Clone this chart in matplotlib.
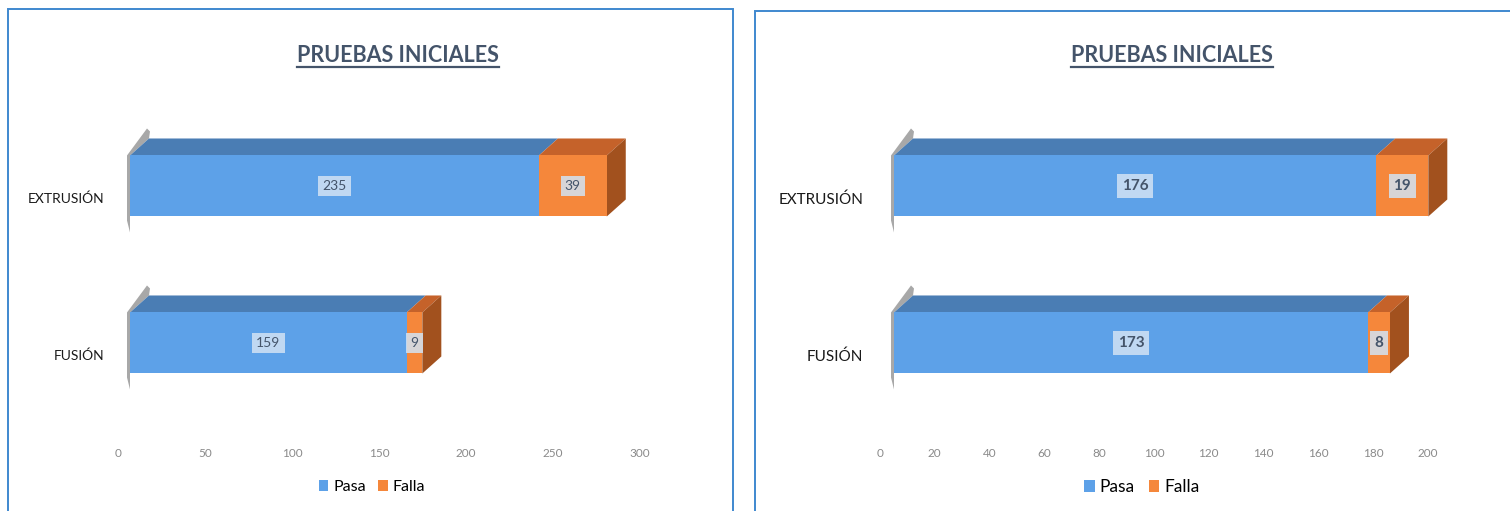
import matplotlib
matplotlib.use('Agg')
import matplotlib.pyplot as plt
from matplotlib.patches import Polygon, Rectangle
from matplotlib.lines import Line2D
from matplotlib.transforms import ScaledTranslation

# test results per process, bottom to top
categories = ['FUSIÓN', 'EXTRUSIÓN']
series = ['Pasa', 'Falla']
pasa_first = [159, 235]
falla_first = [9, 39]
pasa_second = [173, 176]
falla_second = [8, 19]
ticks_first = [0, 50, 100, 150, 200, 250, 300]
ticks_second = [0, 20, 40, 60, 80, 100, 120, 140, 160, 180, 200]
chart_title = 'PRUEBAS INICIALES'

W, H = 1510, 511
plt.rcParams['font.family'] = ['Lato', 'DejaVu Sans']

FRONT = {'Pasa': '#5DA1E8', 'Falla': '#F5873B'}
TOP = {'Pasa': '#4A7DB4', 'Falla': '#C5622A'}
SIDE = {'Pasa': '#3E6C9E', 'Falla': '#A2511E'}
TITLE_COLOR = '#44546A'
BORDER = '#3F88CF'

BAR_H_PX = 61
DEPTH_X, DEPTH_Y = 19, 17


def fig_rect(x, y, w, h):
    # pixel box measured from the top-left corner -> figure fraction
    return [x / W, 1 - (y + h) / H, w / W, h / H]


fig = plt.figure(figsize=(W / 100, H / 100), dpi=100)
fig.patch.set_facecolor('white')


def draw_panel(box, ax_left, ax_width, xmax, ticks, pasa, falla, title_x, legend_x,
               front_shift, label_bold, label_size, cat_size, cat_pad, legend_size):
    bx, by, bw, bh = box
    fig.patches.append(Rectangle((bx / W, 1 - (by + bh) / H), bw / W, bh / H,
                                 transform=fig.transFigure, fill=False,
                                 edgecolor=BORDER, linewidth=1.4, zorder=0))

    ax_top, ax_bot = 110, 440
    ax = fig.add_axes(fig_rect(ax_left, ax_top, ax_width, ax_bot - ax_top))
    y_lo, y_hi = -0.618, 1.484
    ax.set_xlim(0, xmax)
    ax.set_ylim(y_lo, y_hi)
    px_y = (ax_bot - ax_top) / (y_hi - y_lo)
    px_x = ax_width / xmax
    h = BAR_H_PX / px_y
    ddx, ddy = DEPTH_X / px_x, DEPTH_Y / px_y

    shift = ax.transData + ScaledTranslation(front_shift / 100, 0, fig.dpi_scale_trans)

    handles = []
    for i, cat in enumerate(categories):
        yb, yt = i - h / 2, i + h / 2
        # shaded edge of the back wall at the bar's left end
        shade = Polygon([(0, yb - 16 / px_y), (-3 / px_x, yb - 4 / px_y), (-3 / px_x, yt),
                         (ddx - 2 / px_x, yt + ddy + 10 / px_y), (ddx + 1 / px_x, yt + ddy + 7 / px_y),
                         (ddx, yt + ddy), (0, yt)],
                        closed=True, facecolor='#6E6E6E', edgecolor='none', alpha=0.6,
                        transform=shift, zorder=1, clip_on=False)
        ax.add_patch(shade)
        left = 0
        segs = [('Pasa', pasa[i]), ('Falla', falla[i])]
        for k, (name, val) in enumerate(segs):
            right = left + val
            top = Polygon([(left, yt), (right, yt), (right + ddx, yt + ddy), (left + ddx, yt + ddy)],
                          closed=True, facecolor=TOP[name], edgecolor='none',
                          transform=shift, zorder=2, clip_on=False)
            ax.add_patch(top)
            front = Rectangle((left, yb), val, h, facecolor=FRONT[name], edgecolor='none',
                              transform=shift, zorder=3, label=name, clip_on=False)
            ax.add_patch(front)
            if i == 0:
                handles.append(front)
            if k == len(segs) - 1:
                side = Polygon([(right, yb), (right, yt), (right + ddx, yt + ddy), (right + ddx, yb + ddy)],
                               closed=True, facecolor=SIDE[name], edgecolor='none',
                               transform=shift, zorder=2, clip_on=False)
                ax.add_patch(side)
            ax.text(left + val / 2, i, str(val), transform=shift, ha='center', va='center',
                    fontsize=label_size, color=TITLE_COLOR,
                    fontweight='bold' if label_bold else 'normal', zorder=5,
                    bbox=dict(boxstyle='square,pad=0.3', facecolor='#D2E3F4', alpha=0.85,
                              edgecolor='none'))
            left = right

    ax.set_xticks(ticks)
    ax.set_xticklabels([str(t) for t in ticks])
    ax.tick_params(axis='x', length=0, pad=6, labelsize=8.5, labelcolor='#8A8A8A')
    ax.set_yticks([i - 12 / px_y for i in range(len(categories))])
    ax.set_yticklabels(categories)
    ax.tick_params(axis='y', length=0, pad=cat_pad, labelsize=cat_size, labelcolor='#1A1A1A')
    for sp in ax.spines.values():
        sp.set_visible(False)
    ax.patch.set_alpha(0)

    t = fig.text(title_x / W, 1 - 56 / H, chart_title, ha='center', va='center',
                 fontsize=15.5, fontweight='bold', color=TITLE_COLOR)
    fig.canvas.draw()
    bb = t.get_window_extent()
    uy = (bb.y0 - 1) / H
    fig.lines.append(Line2D([bb.x0 / W, bb.x1 / W], [uy, uy], transform=fig.transFigure,
                            color=TITLE_COLOR, linewidth=1.6))

    fig.legend(handles, series, loc='center', bbox_to_anchor=(legend_x / W, 1 - 487 / H),
               ncol=2, frameon=False, fontsize=legend_size, handlelength=0.6,
               handleheight=0.7, handletextpad=0.3, columnspacing=0.8)


draw_panel((8, 9, 725, 520), 118, 522, 300, ticks_first, pasa_first, falla_first,
           title_x=398, legend_x=372, front_shift=12, label_bold=False,
           label_size=10, cat_size=10, cat_pad=10, legend_size=11.5)
draw_panel((755, 11, 770, 520), 880, 548, 200, ticks_second, pasa_second, falla_second,
           title_x=1172, legend_x=1142, front_shift=14, label_bold=True,
           label_size=11, cat_size=11, cat_pad=12, legend_size=12.5)

fig.savefig('out.png', dpi=100)
